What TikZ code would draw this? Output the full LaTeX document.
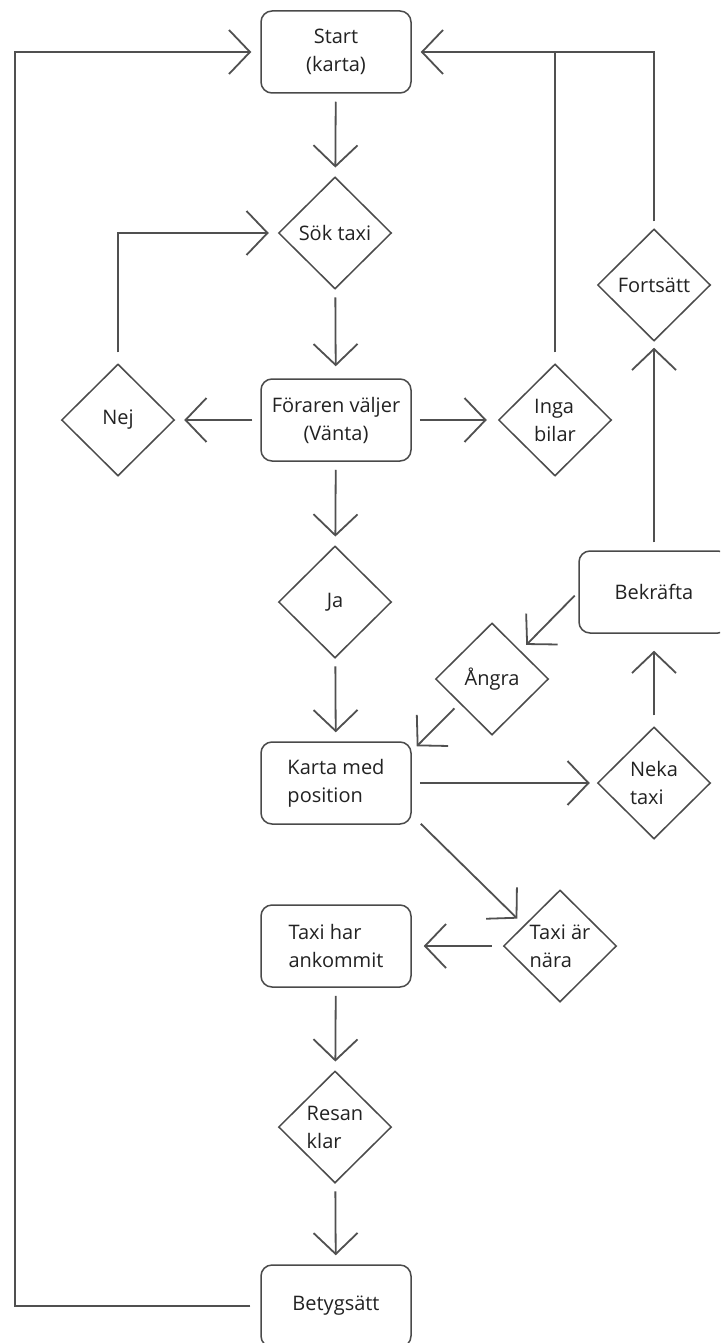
\documentclass[tikz,border=0pt]{standalone}
\usepackage{fontspec}
\setmainfont{Open Sans}
\usetikzlibrary{shapes.geometric,arrows.meta,calc}
\definecolor{lncol}{HTML}{4A4A4A}
\definecolor{arcol}{HTML}{505050}
\definecolor{txcol}{HTML}{222222}
\begin{document}
\begin{tikzpicture}[x=1pt,y=-1pt,
  every node/.style={font=\fontsize{20}{28}\selectfont, text=txcol},
  box/.style={draw=lncol, line width=1.5pt, rounded corners=11pt, minimum width=150pt, minimum height=82pt, inner sep=0pt, align=center},
  dia/.style={draw=lncol, line width=1.5pt, shape=diamond, minimum width=113pt, minimum height=112pt, inner sep=0pt, align=center},
  arr/.style={draw=arcol, line width=1.8pt, -{Straight Barb[length=21pt,width=44pt]}, shorten >=9pt, shorten <=8pt},
  plain/.style={draw=arcol, line width=1.8pt}]
\useasboundingbox (0,0) rectangle (720,1343);
\clip (0,0) rectangle (720,1343);
\fill[white] (0,0) rectangle (720,1343);

\node[box] (start) at (336,52) {\fontsize{20}{23}\selectfont Start\\(karta)};
\node[dia] (sok) at (335,233) {Sök taxi};
\node[box] (forar) at (336,420) {Föraren väljer\\(Vänta)};
\node[dia] (nej) at (118,420) {Nej};
\node[dia, align=left] (inga) at (555,420) {Inga\\bilar};
\node[dia] (forts) at (654,285) {Fortsätt};
\node[dia] (ja) at (335,602) {Ja};
\node[box] (bekr) at (654,592) {Bekräfta};
\node[dia] (angra) at (492,679) {Ångra};
\node[box, align=left] (karta) at (336,783) {Karta med\\position};
\node[dia, align=left] (neka) at (654,783) {Neka\\taxi};
\node[dia, align=left] (nara) at (560,946) {Taxi är\\nära};
\node[box, align=left] (ankom) at (336,946) {Taxi har\\ankommit};
\node[dia, align=left] (resan) at (335,1127) {Resan\\klar};
\node[box] (betyg) at (336,1306) {Betygsätt};

\coordinate (lc) at (15,1306);

\draw[arr] (start) -- (sok);
\draw[arr, shorten >=12pt] (sok) -- (forar);
\draw[arr] (forar) -- (nej);
\draw[arr, shorten >=11pt] (forar) -- (inga);
\draw[arr] (forar) -- (ja);
\draw[arr] (ja) -- (karta);
\draw[arr, shorten >=7pt] (karta) -- (neka);
\draw[arr, shorten <=11pt, shorten >=17pt] (neka) -- (bekr);
\draw[arr, shorten >=6pt] (bekr) -- (forts);
\draw[arr, shorten <=5pt, shorten >=8pt] (bekr.west) -- (angra.north east);
\draw[arr, shorten <=0pt, shorten >=0pt] ($(angra.south west)+(-9,1)$) -- ($(karta.north east)+(5,5)$);
\draw[arr, shorten <=0pt, shorten >=0pt] ($(karta.south east)+(9,-1)$) -- ($(nara.north west)+(-14,1)$);
\draw[arr, shorten <=11pt, shorten >=12pt] (nara) -- (ankom);
\draw[arr] (ankom) -- (resan);
\draw[arr] (resan) -- (betyg);
\draw[arr, shorten <=10pt] (betyg.west) -- (lc) |- (start.west);
\draw[arr, shorten <=11pt] (inga.north) -- (inga.north |- start.east) -- (start.east);
\draw[plain, shorten <=7pt] (forts.north) -- (forts.north |- start.east) -- (inga.north |- start.east);
\draw[arr, shorten <=11pt] (nej.north) |- (sok.west);
\end{tikzpicture}
\end{document}
